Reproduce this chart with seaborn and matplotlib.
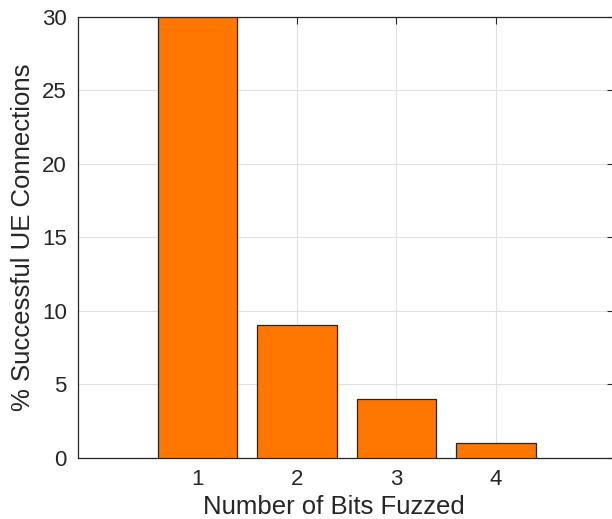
import matplotlib
matplotlib.use("Agg")
import matplotlib.pyplot as plt
import seaborn as sns
import pandas as pd

bits = [1, 2, 3, 4]
success_pct = [30, 9, 4, 1]
y_ticks = [0, 5, 10, 15, 20, 25, 30]

sns.set_style("white")
plt.rcParams['font.family'] = ['Liberation Sans', 'DejaVu Sans']

df = pd.DataFrame({"bits": bits, "pct": success_pct})

fig = plt.figure(figsize=(6.12, 5.19), dpi=100)
left_px, right_px = 78.0, 614.0
ax = fig.add_axes([left_px / 612, 0.1181, (right_px - left_px) / 612, 0.8501])

sns.barplot(data=df, x="bits", y="pct", native_scale=True, width=0.8,
            color="#FF7700", saturation=1, edgecolor="#262626", linewidth=0.9,
            ax=ax, zorder=3)

ax.set_xlim(-0.2, -0.2 + (right_px - left_px) / 99.5)
ax.set_ylim(0, 30)
ax.set_xticks(bits)
ax.set_yticks(y_ticks)
ax.grid(True, color="#e0e0e0", linewidth=0.8, zorder=0)
ax.set_axisbelow(True)
for s in ax.spines.values():
    s.set_visible(True)
    s.set_color("#262626")
    s.set_linewidth(0.9)
ax.tick_params(direction="in", length=5, width=0.8, colors="#262626",
               labelsize=16, top=True, right=True, labelcolor="#262626", pad=8)
ax.set_xlabel("Number of Bits Fuzzed", fontsize=18.5, color="#262626", labelpad=1)
ax.xaxis.set_label_coords((333.5 - left_px) / (right_px - left_px), -0.085)
ax.set_ylabel("% Successful UE Connections", fontsize=18.5, color="#262626", labelpad=5)

fig.savefig("out.png", dpi=100)
